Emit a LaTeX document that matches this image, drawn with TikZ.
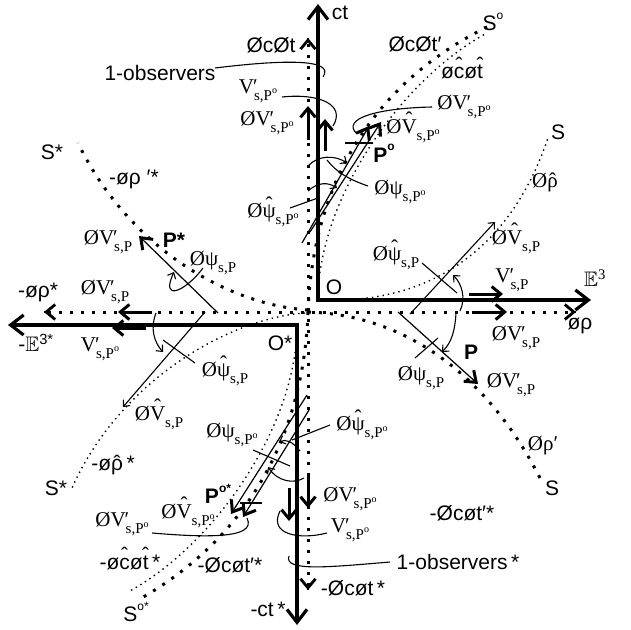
\documentclass[tikz,border=0pt]{standalone}
\usepackage{fontspec}
\usepackage{amssymb}
\setmainfont{Liberation Sans}
\newfontfamily\tms{Liberation Serif}
\usetikzlibrary{arrows.meta}
\newcommand\so{\raisebox{0.55em}{\fontsize{12}{12}\selectfont o}}
\newcommand\sost{\raisebox{0.55em}{\fontsize{12}{12}\selectfont o*}}
\newcommand\sso{\raisebox{0.42em}{\fontsize{10}{10}\selectfont o}}
\newcommand\SB[1]{\raisebox{-0.32em}{\fontsize{15}{15}\selectfont #1}}
\newcommand\VP{V\rlap{\kern-1pt′}}
\newcommand\HT[2][0pt]{\leavevmode\setbox0=\hbox{#2}\hbox to \wd0{\hss\raisebox{#1}[0pt][0pt]{ˆ}\hss}\kern-\wd0\box0}
\begin{document}
\begin{tikzpicture}[x=1pt,y=-1pt,
  ax/.style={line width=3.2pt},
  axhead/.style={-{Straight Barb[length=13pt,width=20pt]}},
  dothead/.style={line width=2.8pt,-{Straight Barb[length=9pt,width=15pt]}},
  cdot/.style={line width=3pt,dash pattern=on 3pt off 8pt},
  fdot/.style={line width=1.4pt,dash pattern=on 1.4pt off 4pt},
  ln/.style={line width=1.1pt},
  tarr/.style={line width=1.1pt,-{Straight Barb[length=5pt,width=9pt]}},
  bigarr/.style={line width=3pt,-{Straight Barb[length=9pt,width=15pt]}},
  parr/.style={line width=1.2pt,-{Straight Barb[length=10pt,width=15pt,line width=3pt]}},
  lbl/.style={inner sep=0pt,font=\tms\fontsize{21}{21}\selectfont},
  slb/.style={inner sep=0pt,font=\fontsize{21}{21}\selectfont},
  pb/.style={inner sep=0pt,font=\fontsize{21}{21}\selectfont\bfseries}]
\useasboundingbox (0,0) rectangle (631,629);
% solid axes
\draw[ax,axhead] (318,301.6) -- (318,4);
\draw[ax,axhead] (316.4,300) -- (591,300);
\draw[ax,axhead] (298.6,325) -- (8,325);
\draw[ax,axhead] (297,323.4) -- (297,625);
% dotted axes
\draw[cdot] (308,44) -- (308,586);
\draw[cdot] (48,312) -- (571,312);
\draw[dothead] (308,38.2) -- (308,38);
\draw[dothead] (308,589.8) -- (308,590);
\draw[dothead] (44.2,312) -- (44,312);
\draw[dothead] (575.8,312) -- (576,312);
% dotted curves (coarse)
\draw[cdot] (308,312) .. controls (312,200) and (360,90) .. (487,27);
\draw[cdot] (308,312) .. controls (304,424) and (256,534) .. (138,600);
\draw[cdot] (308,310) .. controls (230,305) and (130,250) .. (78,143);
\draw[cdot] (308,312) .. controls (410,315) and (490,380) .. (540,478);
% dotted curves (fine)
\draw[fdot] (318,300) .. controls (318,200) and (400,80) .. (487,33);
\draw[fdot] (297,325) .. controls (297,425) and (215,545) .. (128,592);
\draw[fdot] (318,300) .. controls (430,305) and (510,250) .. (548,138);
\draw[fdot] (305,313) .. controls (230,318) and (120,380) .. (72,488);
% thick velocity arrows on axes
\draw[bigarr] (308,140) -- (308,106);
\draw[bigarr] (325,151) -- (325,119);
\draw[bigarr] (308,475) -- (308,508);
\draw[bigarr] (289,488) -- (289,521);
\draw[bigarr] (469,294) -- (503,294);
\draw[bigarr] (472,312) -- (507,312);
\draw[bigarr] (152,312) -- (118,312);
\draw[bigarr] (146,328) -- (112,328);
% P vectors
\draw[parr] (218,313) -- (139,236);
\draw[parr] (398,312) -- (478,384);
\draw[parr] (302,243) -- (369,126);
\draw[parr] (310,232) -- (381,122);
\draw[parr] (307,395) -- (231,514);
\draw[parr] (309,410) -- (243,517);
\draw[ln] (345,143) -- (373,143);
\draw[ln] (240,503) -- (262,503);
% hat-V vectors
\draw[tarr] (410,314) -- (495,222);
\draw[tarr] (205,312) -- (123,407);
% angle arcs
\draw[tarr] (460,311) .. controls (466,298) and (462,284) .. (453,275);
\draw[tarr] (156,313) .. controls (150,328) and (154,342) .. (163,352);
\draw[tarr] (456,313) .. controls (455,330) and (452,342) .. (442,352);
\draw[tarr] (203,268) .. controls (185,292) and (160,302) .. (174,272);
\draw[tarr] (308,166) .. controls (318,155) and (335,155) .. (347,163);
\draw[tarr] (308,191) .. controls (318,182) and (328,182) .. (337,188);
\draw[tarr] (300,451) .. controls (292,441) and (286,439) .. (279,442);
\draw[tarr] (304,478) .. controls (294,484) and (278,482) .. (268,467);
% leader lines
\draw[ln] (422,263) -- (457,293);
\draw[ln] (163,340) -- (195,363);
\draw[ln] (415,358) -- (438,338);
\draw[ln] (292,440) -- (330,425);
\draw[ln] (368,186) .. controls (350,180) and (336,172) .. (327,160);
\draw[ln] (290,208) -- (318,198);
\draw[ln] (253,450) -- (290,466);
\draw[ln] (215,68) .. controls (280,60) and (336,58) .. (323,77);
\draw[ln] (282,97) .. controls (320,93) and (346,105) .. (333,126);
\draw[ln] (432,107) .. controls (380,108) and (340,118) .. (357,134);
\draw[ln] (327,533) .. controls (300,540) and (268,535) .. (280,511);
\draw[ln] (390,562) .. controls (330,567) and (283,572) .. (289,556);
\draw[ln] (152,533) .. controls (200,537) and (258,540) .. (247,518);
% labels
\node[slb] (ct) at (340,13) {ct};
\node[slb] (So) at (493,22) {S\so};
\node[slb] (cta) at (271,45) {ØcØt};
\node[slb] (ctb) at (415,44) {ØcØt′};
\node[slb] (ctc) at (462,72) {ø\HT[0.3em]{c}ø\HT[0.3em]{t}};
\node[slb] (obs) at (160,73) {1-observers};
\node[lbl] (v1) at (258,91) {\VP\SB{s,P\sso}};
\node[lbl] (v2) at (267,123) {Ø\VP\SB{s,P\sso}};
\node[lbl] (v3) at (413,131) {Ø\HT[0.36em]{V}\SB{s,P\sso}};
\node[lbl] (v4) at (464,107) {Ø\VP\SB{s,P\sso}};
\node[pb] (Po) at (384,153) {P\so};
\node[lbl] (psi1) at (400,192) {Øψ\SB{s,P\sso}};
\node[lbl] (psih1) at (273,215) {Ø\HT[0.3em]{ψ}\SB{s,P\sso}};
\node[slb] (S1) at (558,132) {S};
\node[lbl] (rh1) at (545,183) {Ø\HT{ρ}};
\node[lbl] (vh2) at (516,242) {Ø\HT[0.36em]{V}\SB{s,P}};
\node[lbl] (psih2) at (396,258) {Ø\HT[0.3em]{ψ}\SB{s,P}};
\node[slb] (O) at (334,287) {O};
\node[lbl] (v5) at (512,280) {\VP\SB{s,P}};
\node[lbl] (E3) at (595,278) {$\mathbb{E}$\textsuperscript{3}};
\node[slb] (rho1) at (580,326) {øρ};
\node[lbl] (v6) at (516,338) {Ø\VP\SB{s,P}};
\node[pb] (P) at (471,352) {P};
\node[lbl] (psi2) at (421,378) {Øψ\SB{s,P}};
\node[lbl] (v7) at (511,385) {Ø\VP\SB{s,P}};
\node[lbl] (psih3) at (362,428) {Ø\HT[0.3em]{ψ}\SB{s,P\sso}};
\node[lbl] (rho2) at (543,446) {Øρ′};
\node[slb] (S2) at (552,488) {S};
\node[slb] (ct2) at (462,513) {-Øcøt′*};
\node[lbl] (v8) at (350,499) {Ø\VP\SB{s,P\sso}};
\node[lbl] (v9) at (350,530) {\VP\SB{s,P\sso}};
\node[slb] (obs2) at (458,562) {1-observers\,*};
\node[slb] (ct3) at (353,588) {-Øcøt\,*};
\node[slb] (ct4) at (268,609) {-ct\,*};
\node[slb] (So2) at (136,612) {S\sost};
\node[slb] (ct5) at (130,562) {-ø\HT[0.3em]{c}ø\HT[0.3em]{t}\,*};
\node[slb] (ct6) at (230,565) {-Øcøt′*};
\node[lbl] (v10) at (122,524) {Ø\VP\SB{s,P\sso}};
\node[lbl] (vh3) at (188,516) {Ø\HT[0.36em]{V}\SB{s,P\sso}};
\node[pb] (Po2) at (218,494) {P\sost};
\node[slb] (S3) at (56,488) {S*};
\node[slb] (rh2) at (113,465) {-ø\HT{ρ}\,*};
\node[lbl] (vh4) at (159,418) {Ø\HT[0.36em]{V}\SB{s,P}};
\node[lbl] (psi3) at (232,435) {Øψ\SB{s,P\sso}};
\node[lbl] (psih4) at (225,374) {Ø\HT[0.3em]{ψ}\SB{s,P}};
\node[slb] (Os) at (280,343) {O*};
\node[slb] (E3s) at (36,343) {-$\mathbb{E}$\textsuperscript{3*}};
\node[lbl] (v11) at (100,349) {\VP\SB{s,P\sso}};
\node[slb] (rho3) at (38,292) {-øρ*};
\node[lbl] (v12) at (105,292) {Ø\VP\SB{s,P}};
\node[lbl] (v13) at (108,242) {Ø\VP\SB{s,P}};
\node[pb] (Ps) at (174,240) {P*};
\node[lbl] (psi4) at (213,263) {Øψ\SB{s,P}};
\node[slb] (rho4) at (134,179) {-øρ ′*};
\node[slb] (S4) at (52,152) {S*};
\end{tikzpicture}
\end{document}
